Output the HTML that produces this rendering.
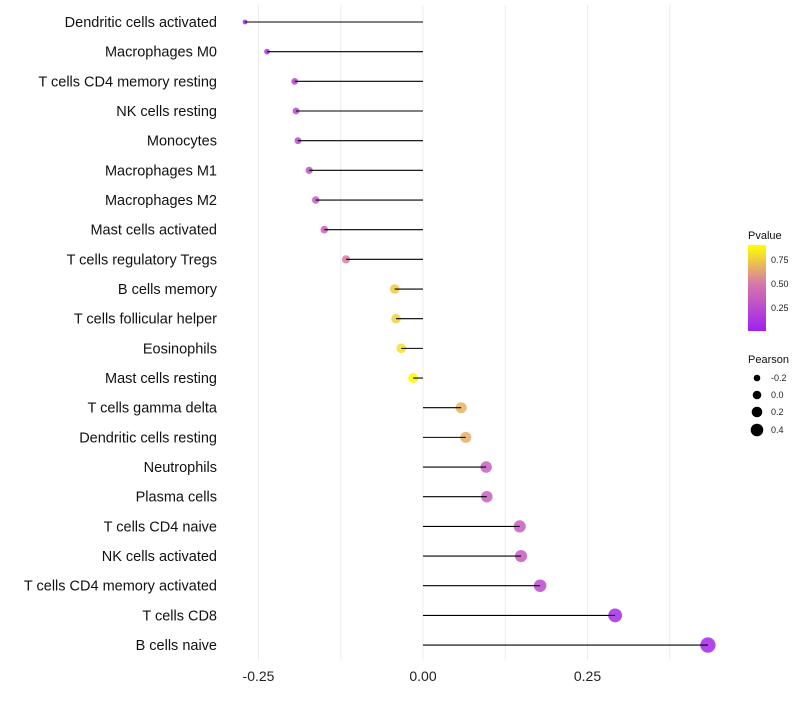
<!DOCTYPE html>
<html><head><meta charset="utf-8"><style>
body{margin:0;background:#fff;font-family:"Liberation Sans",sans-serif}
</style></head><body>
<svg id="c" width="800" height="700" xmlns="http://www.w3.org/2000/svg" font-family="Liberation Sans, sans-serif"></svg>
<script>
const categories=["Dendritic cells activated","Macrophages M0","T cells CD4 memory resting","NK cells resting","Monocytes","Macrophages M1","Macrophages M2","Mast cells activated","T cells regulatory  Tregs ","B cells memory","T cells follicular helper","Eosinophils","Mast cells resting","T cells gamma delta","Dendritic cells resting","Neutrophils","Plasma cells","T cells CD4 naive","NK cells activated","T cells CD4 memory activated","T cells CD8","B cells naive"];
const pearson=[-0.2705,-0.237,-0.195,-0.193,-0.19,-0.173,-0.163,-0.150,-0.117,-0.043,-0.041,-0.033,-0.015,0.058,0.065,0.096,0.097,0.147,0.149,0.178,0.292,0.433];
const pvalue=[0.05,0.12,0.2,0.21,0.22,0.28,0.33,0.36,0.52,0.8,0.82,0.88,0.97,0.72,0.7,0.36,0.36,0.35,0.34,0.24,0.06,0.04];
const xTicks=[-0.25,0,0.25];
const xTickLabels=["-0.25","0.00","0.25"];
const gridVals=[-0.25,-0.125,0,0.125,0.25,0.375];
const NS="http://www.w3.org/2000/svg";
const svg=document.getElementById('c');
const xs=v=>423+v*658;
const ys=i=>22+i*29.67;
const rs=v=>Math.sqrt(Math.max(4,26+75*v));
function lerp(a,b,t){return a.map((x,k)=>Math.round(x+(b[k]-x)*t));}
function col(p){const s=[[160,32,240],[214,120,170],[255,255,0]];let c=p<0.5?lerp(s[0],s[1],p/0.5):lerp(s[1],s[2],(p-0.5)/0.5);return `rgb(${c})`;}
function el(t,a){const e=document.createElementNS(NS,t);for(const k in a)e.setAttribute(k,a[k]);svg.appendChild(e);return e;}
gridVals.forEach(v=>{const g=el('line',{x1:xs(v),x2:xs(v),y1:5,y2:660,stroke:'#ebebeb','stroke-width':1});

});
xTicks.forEach((v,i)=>{const t=el('text',{x:xs(v),y:681,'text-anchor':'middle','font-size':14,fill:'#222'});t.textContent=xTickLabels[i];

});
categories.forEach((c,i)=>{const y=ys(i);
const t=el('text',{x:217,y:y+5,'text-anchor':'end','font-size':14.5,fill:'#111'});t.textContent=c;


const p=el('circle',{cx:xs(pearson[i]),cy:y,r:rs(pearson[i]),fill:col(pvalue[i]),'fill-opacity':0.85});


const l=el('line',{x1:xs(0),x2:xs(pearson[i]),y1:y,y2:y,stroke:'#000','stroke-width':1.1});

});
// legend
const d=el('defs',{});d.innerHTML='<linearGradient id="g" x1="0" y1="1" x2="0" y2="0"><stop offset="0" stop-color="rgb(160,32,240)"/><stop offset="0.55" stop-color="rgb(214,120,170)"/><stop offset="1" stop-color="rgb(255,255,0)"/></linearGradient>';
let t=el('text',{x:748,y:239,'font-size':11,fill:'#111'});t.textContent='Pvalue';


let r=el('rect',{x:748,y:245,width:18,height:86,fill:'url(#g)'});


[[0.75,260],[0.5,284],[0.25,308]].forEach(([v,y])=>{const e=el('text',{x:771,y:y+3,'font-size':9,fill:'#222'});e.textContent=v.toFixed(2);

});
t=el('text',{x:748,y:363,'font-size':11,fill:'#111'});t.textContent='Pearson';


[[-0.2,378,3.3],[0,395,4.3],[0.2,412,5.3],[0.4,430,6.3]].forEach(([v,y,rr])=>{const c=el('circle',{cx:757,cy:y,r:rr,fill:'#000'});


const e=el('text',{x:771,y:y+3,'font-size':9,fill:'#222'});e.textContent=v.toFixed(1);

});
</script>
</body></html>
